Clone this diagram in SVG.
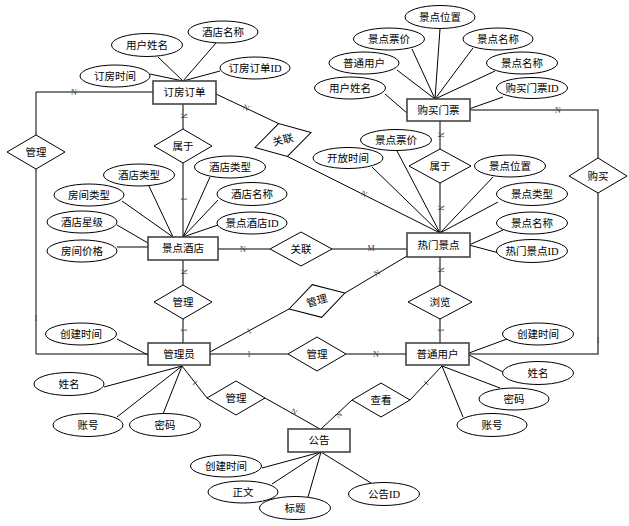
<svg xmlns="http://www.w3.org/2000/svg" width="629" height="526" viewBox="0 0 629 526">
<style>
text{font-family:"Liberation Serif","Noto Sans CJK SC",serif;font-size:10.5px;fill:#000;text-anchor:middle;dominant-baseline:central}
.ent rect{fill:#fff;stroke:#444;stroke-width:1.6}
.rel polygon{fill:#fff;stroke:#000;stroke-width:1}
.att ellipse{fill:#fff;stroke:#000;stroke-width:1}
.conn line,.conn polyline{fill:none;stroke:#000;stroke-width:1}
.conn .g{stroke:#555;stroke-width:1.6}
.card text{font-size:8px;fill:#444}
</style>
<rect width="629" height="526" fill="#fff"/>
<g id="connectors" class="conn">
<polyline points="153,92 36,92 36,135"/>
<polyline points="36,169 36,354 148,354"/>
<line x1="183" y1="104" x2="183" y2="129"/>
<line x1="183" y1="163" x2="183" y2="237"/>
<line x1="183" y1="260" x2="183" y2="285"/>
<line x1="183" y1="319" x2="183" y2="343"/>
<line x1="216" y1="94" x2="278.6" y2="123.6"/>
<line x1="287.4" y1="156.4" x2="440" y2="233"/>
<line x1="440" y1="121" x2="440" y2="149"/>
<line x1="440" y1="183" x2="440" y2="233"/>
<line x1="440" y1="257" x2="440" y2="285"/>
<line x1="440" y1="319" x2="440" y2="343"/>
<polyline class="g" points="469,110 598,110 598,158"/>
<polyline class="g" points="598,193 598,354 469,354"/>
<line class="g" x1="218" y1="249" x2="270" y2="249"/>
<line class="g" x1="332" y1="249" x2="407" y2="249"/>
<line x1="210" y1="352" x2="289" y2="309"/>
<line x1="345" y1="293" x2="407" y2="256"/>
<line class="g" x1="210" y1="354" x2="288" y2="354"/>
<line class="g" x1="346" y1="354" x2="406" y2="354"/>
<polyline points="182,366 207,398"/>
<line x1="265" y1="398" x2="320" y2="429"/>
<line x1="321" y1="429" x2="352" y2="400"/>
<line x1="410" y1="400" x2="442" y2="366"/>
<!-- attribute lines: 订房订单 -->
<line x1="158" y1="57" x2="183" y2="81"/>
<line x1="216" y1="43" x2="183" y2="81"/>
<line x1="150" y1="74" x2="183" y2="81"/>
<line x1="220" y1="71" x2="183" y2="81"/>
<!-- 购买门票 -->
<line x1="440" y1="29" x2="435" y2="99"/>
<line x1="412" y1="49" x2="435" y2="99"/>
<line x1="473" y1="48" x2="435" y2="99"/>
<line x1="397" y1="70" x2="435" y2="99"/>
<line x1="495" y1="71" x2="435" y2="99"/>
<line x1="385" y1="94" x2="407" y2="113"/>
<line x1="503" y1="97" x2="469" y2="109"/>
<!-- 景点酒店 -->
<line x1="148" y1="184" x2="173" y2="237"/>
<line x1="122" y1="201" x2="173" y2="237"/>
<line x1="117" y1="225" x2="148" y2="243"/>
<line x1="117" y1="247" x2="148" y2="247"/>
<line x1="210" y1="177" x2="183" y2="237"/>
<line x1="218" y1="200" x2="183" y2="237"/>
<line x1="218" y1="225" x2="183" y2="237"/>
<!-- 热门景点 -->
<line x1="397" y1="151" x2="440" y2="233"/>
<line x1="372" y1="167" x2="440" y2="233"/>
<line x1="493" y1="177" x2="440" y2="233"/>
<line x1="498" y1="202" x2="440" y2="233"/>
<line x1="503" y1="230" x2="469" y2="245"/>
<line x1="499" y1="253" x2="469" y2="245"/>
<!-- 普通用户 -->
<line x1="507" y1="339" x2="469" y2="353"/>
<line x1="503" y1="372" x2="469" y2="355"/>
<line x1="500" y1="388" x2="442" y2="366"/>
<line x1="463" y1="417" x2="442" y2="366"/>
<!-- 管理员 -->
<line x1="117" y1="339" x2="148" y2="355"/>
<line x1="104" y1="387" x2="182" y2="366"/>
<line x1="117" y1="417" x2="182" y2="366"/>
<line x1="163" y1="414" x2="182" y2="366"/>
<!-- 公告 -->
<line x1="262" y1="468" x2="321" y2="452"/>
<line x1="272" y1="484" x2="321" y2="452"/>
<line x1="308" y1="497" x2="321" y2="452"/>
<line x1="371" y1="483" x2="321" y2="452"/>
</g>
<g id="cardinalities" class="card">
<text x="74" y="92">N</text>
<text x="36" y="318">1</text>
<text x="558" y="110">N</text>
<text x="598" y="340">1</text>
<text x="243" y="249">N</text>
<text x="371" y="248">M</text>
<text x="249" y="354">1</text>
<text x="376" y="354">N</text>
<text transform="translate(183,116) rotate(90)">N</text>
<text transform="translate(183,199) rotate(90)">1</text>
<text transform="translate(183,272) rotate(90)">N</text>
<text transform="translate(183,330) rotate(90)">1</text>
<text transform="translate(440,135) rotate(90)">N</text>
<text transform="translate(440,208) rotate(90)">N</text>
<text transform="translate(440,270) rotate(90)">N</text>
<text transform="translate(440,330) rotate(90)">1</text>
<text transform="translate(246,108) rotate(25)">N</text>
<text transform="translate(364,194) rotate(27)">N</text>
<text transform="translate(249,331) rotate(-29)">1</text>
<text transform="translate(377,273) rotate(-31)">N</text>
<text transform="translate(195,383) rotate(51)">1</text>
<text transform="translate(294,412) rotate(28)">N</text>
<text transform="translate(339,415) rotate(-43)">N</text>
<text transform="translate(426,383) rotate(-47)">1</text>
</g>
<g id="e-order" class="ent"><rect x="153" y="81" width="63" height="23"/><text x="184.5" y="92.5">订房订单</text></g>
<g id="e-ticket" class="ent"><rect x="407" y="99" width="63" height="22"/><text x="438.5" y="110">购买门票</text></g>
<g id="e-hotel" class="ent"><rect x="148" y="237" width="70" height="23"/><text x="183" y="248.5">景点酒店</text></g>
<g id="e-spot" class="ent"><rect x="407" y="233" width="63" height="24"/><text x="438.5" y="245">热门景点</text></g>
<g id="e-admin" class="ent"><rect x="148" y="343" width="62" height="22"/><text x="179" y="354">管理员</text></g>
<g id="e-user" class="ent"><rect x="406" y="343" width="63" height="22"/><text x="437.5" y="354">普通用户</text></g>
<g id="e-notice" class="ent"><rect x="288" y="429" width="62" height="23"/><text x="319" y="440.5">公告</text></g>
<g id="r-manage1" class="rel"><polygon points="7,152 36,135 65,152 36,169"/><text x="36" y="152">管理</text></g>
<g id="r-belong1" class="rel"><polygon points="154,146 183,129 212,146 183,163"/><text x="183" y="146">属于</text></g>
<g id="r-assoc1" class="rel" transform="translate(283,140) rotate(-15)"><polygon points="-29,0 0,-17 29,0 0,17"/><text x="0" y="0">关联</text></g>
<g id="r-assoc2" class="rel"><polygon points="270,249 301,232 332,249 301,266"/><text x="301" y="249">关联</text></g>
<g id="r-manage2" class="rel"><polygon points="154,302 183,285 212,302 183,319"/><text x="183" y="302">管理</text></g>
<g id="r-manage3" class="rel" transform="translate(317,301) rotate(-16)"><polygon points="-29,0 0,-17 29,0 0,17"/><text x="0" y="0">管理</text></g>
<g id="r-belong2" class="rel"><polygon points="409,166 440,149 471,166 440,183"/><text x="440" y="166">属于</text></g>
<g id="r-buy" class="rel"><polygon points="569,176 598,158 627,176 598,193"/><text x="598" y="176">购买</text></g>
<g id="r-browse" class="rel"><polygon points="408,302 440,285 472,302 440,319"/><text x="440" y="302">浏览</text></g>
<g id="r-manage4" class="rel"><polygon points="288,354 317,337 346,354 317,371"/><text x="317" y="354">管理</text></g>
<g id="r-view" class="rel"><polygon points="352,400 381,383 410,400 381,417"/><text x="381" y="400">查看</text></g>
<g id="r-manage5" class="rel"><polygon points="207,398 236,381 265,398 236,415"/><text x="236" y="398">管理</text></g>
<g class="att">
<g id="a1"><ellipse cx="147" cy="45" rx="35.5" ry="11.5"/><text x="147" y="45">用户姓名</text></g>
<g id="a2"><ellipse cx="223" cy="32" rx="35" ry="11"/><text x="223" y="32">酒店名称</text></g>
<g id="a3"><ellipse cx="115" cy="76" rx="35" ry="11"/><text x="115" y="76">订房时间</text></g>
<g id="a4"><ellipse cx="255" cy="68" rx="35" ry="11"/><text x="255" y="68">订房订单ID</text></g>
<g id="a5"><ellipse cx="440" cy="17" rx="35" ry="11.5"/><text x="440" y="17">景点位置</text></g>
<g id="a6"><ellipse cx="389" cy="39" rx="35.5" ry="11"/><text x="389" y="39">景点票价</text></g>
<g id="a7"><ellipse cx="498" cy="39" rx="35" ry="11"/><text x="498" y="39">景点名称</text></g>
<g id="a8"><ellipse cx="364" cy="63" rx="35" ry="11"/><text x="364" y="63">普通用户</text></g>
<g id="a9"><ellipse cx="522" cy="63" rx="35.5" ry="11"/><text x="522" y="63">景点名称</text></g>
<g id="a10"><ellipse cx="350" cy="88" rx="35.5" ry="11"/><text x="350" y="88">用户姓名</text></g>
<g id="a11"><ellipse cx="532" cy="88" rx="35.5" ry="10.5"/><text x="532" y="88">购买门票ID</text></g>
<g id="a12"><ellipse cx="139" cy="175" rx="35.5" ry="11"/><text x="139" y="175">酒店类型</text></g>
<g id="a13"><ellipse cx="89" cy="195" rx="35" ry="11"/><text x="89" y="195">房间类型</text></g>
<g id="a14"><ellipse cx="82" cy="222" rx="35" ry="11"/><text x="82" y="222">酒店星级</text></g>
<g id="a15"><ellipse cx="82" cy="251" rx="35" ry="11"/><text x="82" y="251">房间价格</text></g>
<g id="a16"><ellipse cx="230" cy="167" rx="35.5" ry="11"/><text x="230" y="167">酒店类型</text></g>
<g id="a17"><ellipse cx="252" cy="194" rx="35" ry="11.5"/><text x="252" y="194">酒店名称</text></g>
<g id="a18"><ellipse cx="252" cy="223" rx="35" ry="11"/><text x="252" y="223">景点酒店ID</text></g>
<g id="a19"><ellipse cx="396" cy="140" rx="35.5" ry="10.5"/><text x="396" y="140">景点票价</text></g>
<g id="a20"><ellipse cx="348" cy="158" rx="35" ry="10.5"/><text x="348" y="158">开放时间</text></g>
<g id="a21"><ellipse cx="510" cy="166" rx="35.5" ry="11"/><text x="510" y="166">景点位置</text></g>
<g id="a22"><ellipse cx="532" cy="194" rx="35.5" ry="11.5"/><text x="532" y="194">景点类型</text></g>
<g id="a23"><ellipse cx="532" cy="223" rx="35.5" ry="11"/><text x="532" y="223">景点名称</text></g>
<g id="a24"><ellipse cx="532" cy="251" rx="35.5" ry="11.5"/><text x="532" y="251">热门景点ID</text></g>
<g id="a25"><ellipse cx="538" cy="334" rx="35.5" ry="11"/><text x="538" y="334">创建时间</text></g>
<g id="a26"><ellipse cx="538" cy="373" rx="35.5" ry="11.5"/><text x="538" y="373">姓名</text></g>
<g id="a27"><ellipse cx="514" cy="399" rx="35" ry="11"/><text x="514" y="399">密码</text></g>
<g id="a28"><ellipse cx="492" cy="425" rx="35" ry="11.5"/><text x="492" y="425">账号</text></g>
<g id="a29"><ellipse cx="81" cy="334" rx="35.5" ry="11"/><text x="81" y="334">创建时间</text></g>
<g id="a30"><ellipse cx="69" cy="384" rx="35" ry="11.5"/><text x="69" y="384">姓名</text></g>
<g id="a31"><ellipse cx="88" cy="425" rx="35" ry="11.5"/><text x="88" y="425">账号</text></g>
<g id="a32"><ellipse cx="165" cy="425" rx="35.5" ry="11.5"/><text x="165" y="425">密码</text></g>
<g id="a33"><ellipse cx="226" cy="466" rx="35.5" ry="11"/><text x="226" y="466">创建时间</text></g>
<g id="a34"><ellipse cx="243" cy="492" rx="35" ry="11"/><text x="243" y="492">正文</text></g>
<g id="a35"><ellipse cx="295" cy="508" rx="35.5" ry="11.5"/><text x="295" y="508">标题</text></g>
<g id="a36"><ellipse cx="384" cy="494" rx="35.5" ry="11.5"/><text x="384" y="494">公告ID</text></g>
</g>
</svg>
